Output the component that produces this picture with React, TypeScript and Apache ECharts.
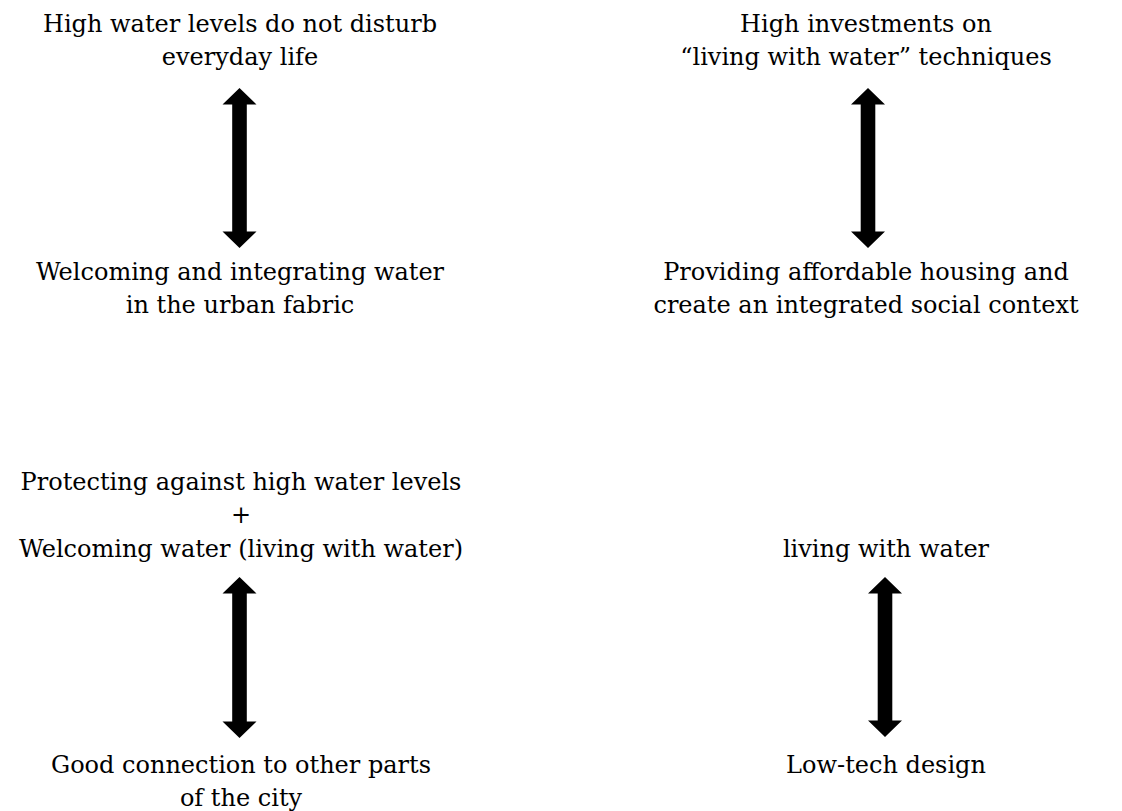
import React, { useEffect, useRef } from "react";
import * as echarts from "echarts";

// Text blocks: lines, centre x, first baseline y
const blockLines: string[][] = [
  ["High water levels do not disturb", "everyday life"],
  ["Welcoming and integrating water", "in the urban fabric"],
  ["High investments on", "\u201Cliving with water\u201D techniques"],
  ["Providing affordable housing and", "create an integrated social context"],
  ["Protecting against high water levels", "+", "Welcoming water (living with water)"],
  ["Good connection to other parts", "of the city"],
  ["living with water"],
  ["Low-tech design"],
];
const blockCenterX = [240, 240, 866, 866, 241, 241, 886, 886];
const blockBaselineY = [32, 280, 32, 280, 490, 773, 557, 773];

// Double arrows: centre x, top tip y, bottom tip y
const arrowX = [239.5, 868, 239.5, 885];
const arrowTop = [88, 88, 577, 577];
const arrowBottom = [248, 248, 738, 737];

const W = 1122;
const H = 811;
const FONT_SIZE = 24;
const LINE_GAP = 33.5;
const BASELINE_SHIFT = 3.7;
const HEAD_HALF = 17;
const SHAFT_HALF = 7.3;
const HEAD_LEN = 16.5;

export default function App() {
  const ref = useRef<HTMLDivElement>(null);
  useEffect(() => {
    if (!ref.current) return;
    const chart = echarts.init(ref.current, undefined, { renderer: "svg" });

    const arrowData = arrowX.map((x, i) => [x, arrowTop[i], arrowBottom[i]]);
    const textData: any[] = [];
    blockLines.forEach((lines, b) => {
      lines.forEach((t, j) => {
        textData.push({ value: [blockCenterX[b], blockBaselineY[b] + j * LINE_GAP], text: t });
      });
    });

    chart.setOption({
      animation: false,
      backgroundColor: "#ffffff",
      grid: { left: 0, right: 0, top: 0, bottom: 0 },
      xAxis: { type: "value", min: 0, max: W, show: false },
      yAxis: { type: "value", min: 0, max: H, inverse: true, show: false },
      series: [
        {
          type: "custom",
          data: arrowData,
          renderItem: (params: any, api: any) => {
            const cx = api.value(0);
            const top = api.value(1);
            const bot = api.value(2);
            const pts = [
              [cx, top],
              [cx + HEAD_HALF, top + HEAD_LEN],
              [cx + SHAFT_HALF, top + HEAD_LEN],
              [cx + SHAFT_HALF, bot - HEAD_LEN],
              [cx + HEAD_HALF, bot - HEAD_LEN],
              [cx, bot],
              [cx - HEAD_HALF, bot - HEAD_LEN],
              [cx - SHAFT_HALF, bot - HEAD_LEN],
              [cx - SHAFT_HALF, top + HEAD_LEN],
              [cx - HEAD_HALF, top + HEAD_LEN],
            ].map((p) => api.coord(p));
            return {
              type: "polygon",
              shape: { points: pts },
              style: { fill: "#000000", stroke: "none" },
            };
          },
        },
        {
          type: "custom",
          data: textData,
          renderItem: (params: any, api: any) => {
            const item = textData[params.dataIndex];
            const p = api.coord([api.value(0), api.value(1) + BASELINE_SHIFT]);
            return {
              type: "text",
              x: p[0],
              y: p[1],
              style: {
                text: item.text,
                font: `${FONT_SIZE}px 'DejaVu Serif'`,
                fill: "#000000",
                textAlign: "center",
                textVerticalAlign: "bottom",
              },
            };
          },
        },
      ],
    });
    return () => chart.dispose();
  }, []);

  return (
    <div
      ref={ref}
      style={{ position: "absolute", left: 0, top: 0, width: W, height: H, background: "#fff" }}
    />
  );
}
